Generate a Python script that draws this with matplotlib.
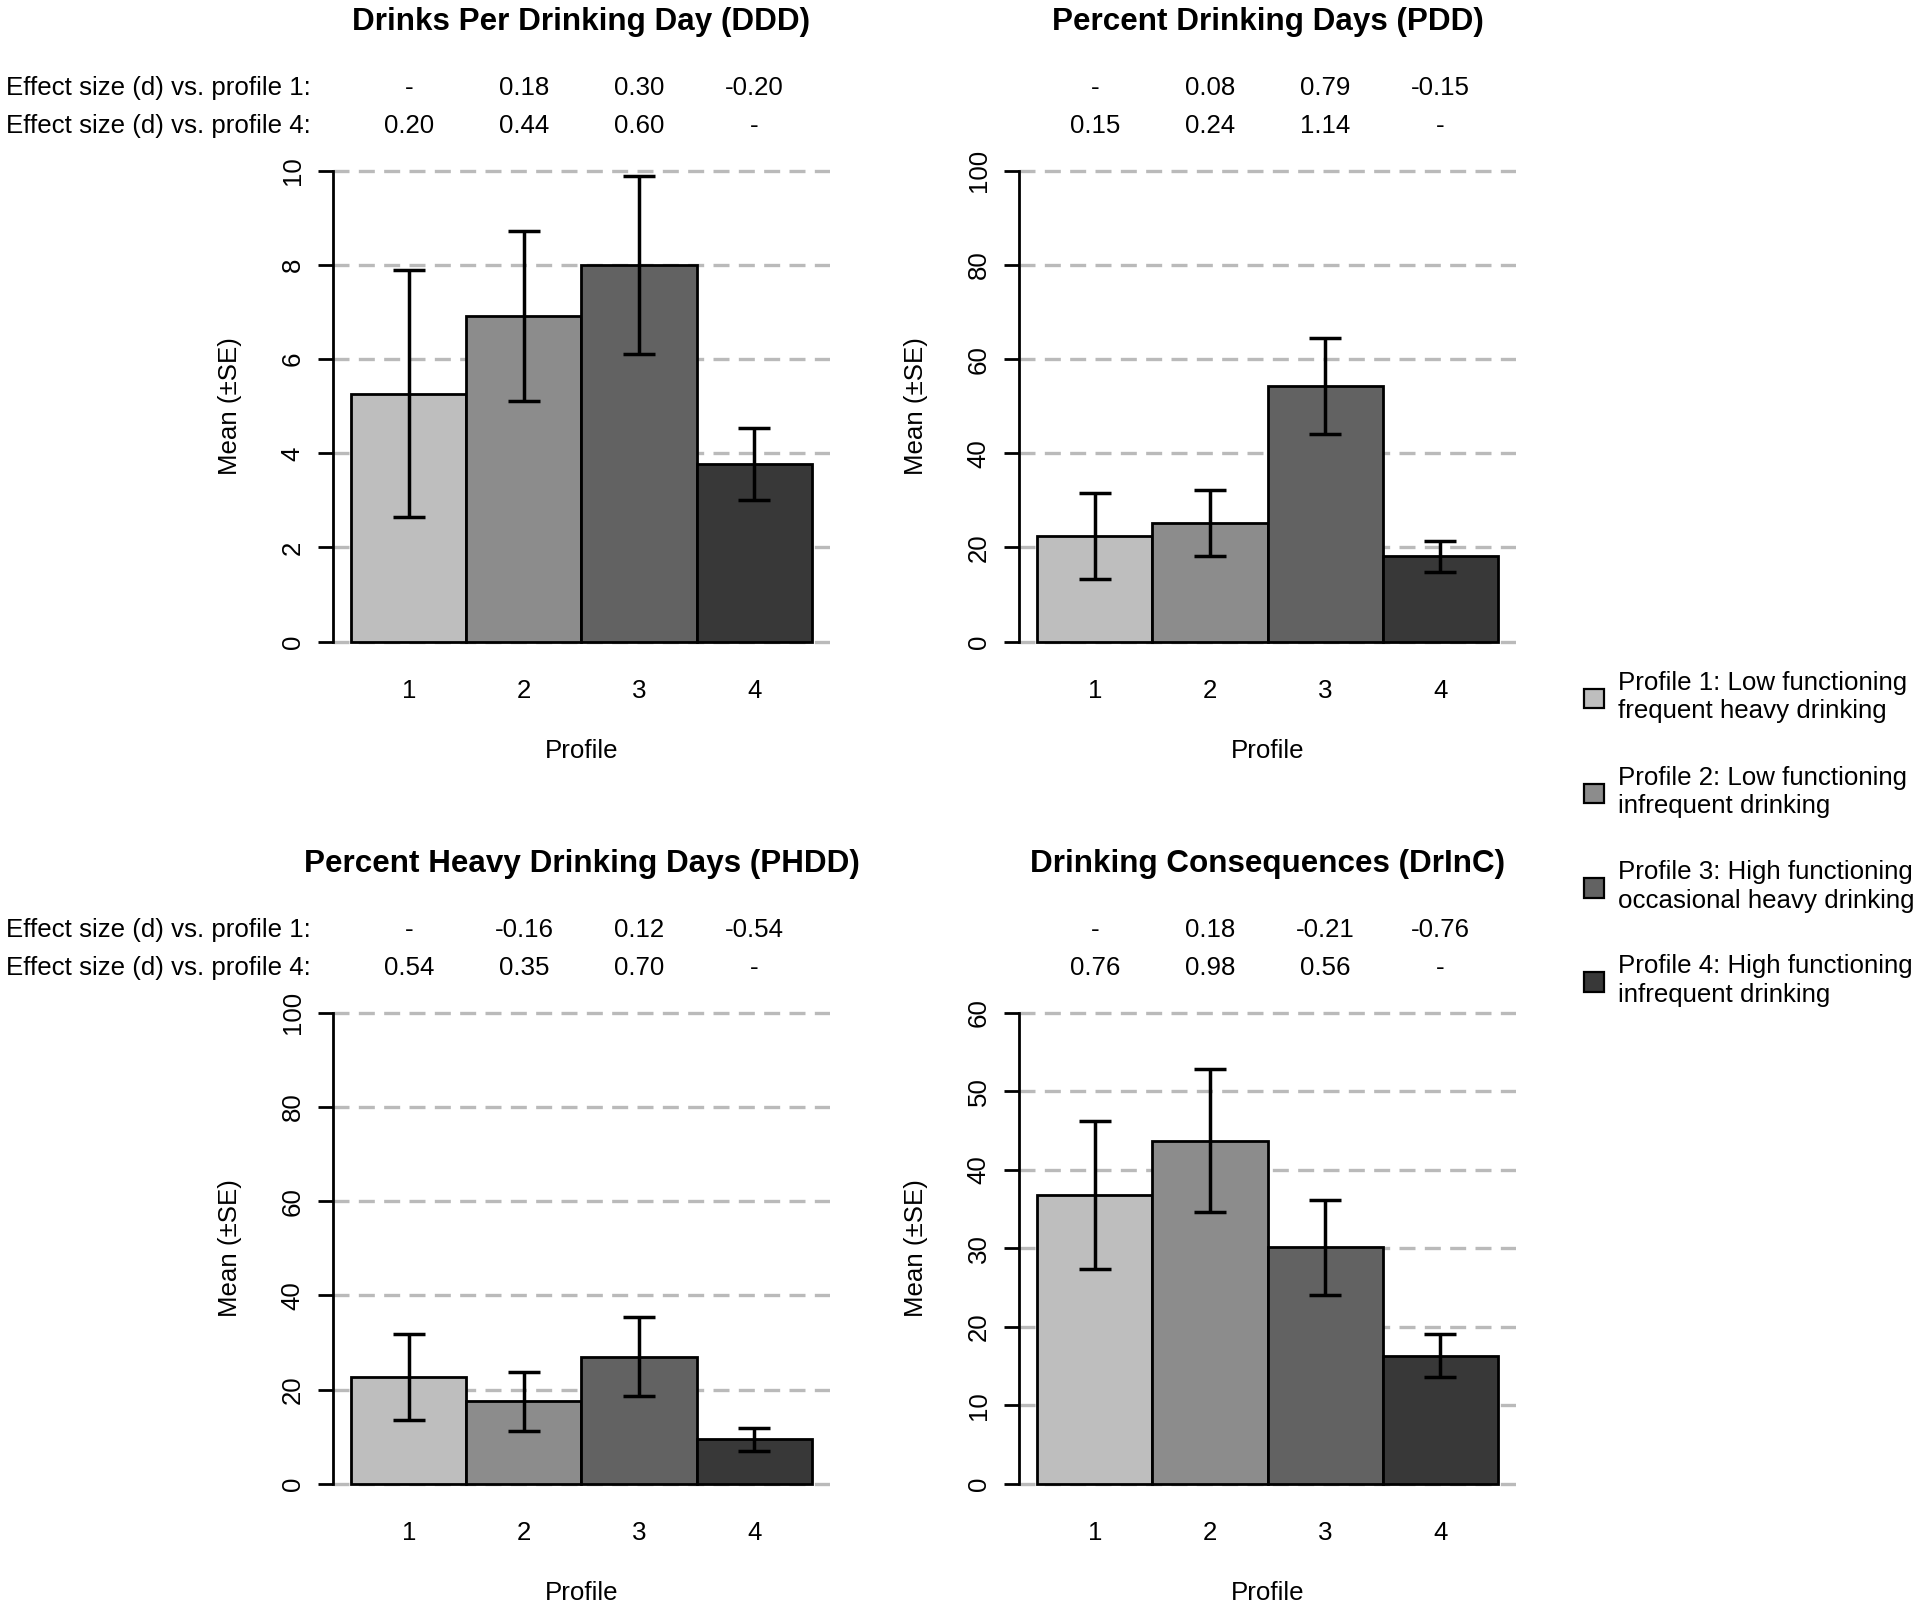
import numpy as np
import matplotlib
matplotlib.use("Agg")
import matplotlib.pyplot as plt
import matplotlib.transforms as mtransforms
from matplotlib.patches import Rectangle

plt.rcParams["font.family"] = ["Liberation Sans", "DejaVu Sans"]

# ---------------------------------------------------------------------------
# Data
# ---------------------------------------------------------------------------
profiles = ["1", "2", "3", "4"]
profile_labels = [
    "Profile 1: Low functioning\nfrequent heavy drinking",
    "Profile 2: Low functioning\ninfrequent drinking",
    "Profile 3: High functioning\noccasional heavy drinking",
    "Profile 4: High functioning\ninfrequent drinking",
]
bar_colors = ["#bebebe", "#8c8c8c", "#626262", "#383838"]

titles = [
    "Drinks Per Drinking Day (DDD)",
    "Percent Drinking Days (PDD)",
    "Percent Heavy Drinking Days (PHDD)",
    "Drinking Consequences (DrInC)",
]

ddd_mean = [5.27, 6.92, 8.00, 3.77]
ddd_se = [2.63, 1.81, 1.90, 0.77]
pdd_mean = [22.5, 25.2, 54.3, 18.1]
pdd_se = [9.15, 7.0, 10.1, 3.25]
phdd_mean = [22.6, 17.5, 27.0, 9.4]
phdd_se = [9.1, 6.3, 8.4, 2.45]
drinc_mean = [36.8, 43.7, 30.1, 16.3]
drinc_se = [9.4, 9.1, 6.0, 2.75]

# effect sizes (None -> "-")
ddd_d1 = [None, 0.18, 0.30, -0.20]
ddd_d4 = [0.20, 0.44, 0.60, None]
pdd_d1 = [None, 0.08, 0.79, -0.15]
pdd_d4 = [0.15, 0.24, 1.14, None]
phdd_d1 = [None, -0.16, 0.12, -0.54]
phdd_d4 = [0.54, 0.35, 0.70, None]
drinc_d1 = [None, 0.18, -0.21, -0.76]
drinc_d4 = [0.76, 0.98, 0.56, None]

y_max = [10, 100, 100, 60]
y_step = [2, 20, 20, 10]

# ---------------------------------------------------------------------------
# Layout (pixel based, figure is 1920 x 1609 at dpi 100)
# ---------------------------------------------------------------------------
W, H = 1920, 1609
FS = 18.6
FS_TITLE = 22.6

fig = plt.figure(figsize=(W / 100, H / 100), dpi=100)
fig.patch.set_facecolor("white")

ax_w, ax_h = 497, 508.5
lefts = [333, 1019]
tops = [152, 994]


def fx(px):
    return px / W


def fy(py):
    return 1 - py / H


def fmt_d(v):
    return "-" if v is None else f"{v:.2f}"


def draw_panel(ax, means, ses, ymax, step, title, d1, d4, row_labels, top_px, left_px):
    x = np.arange(len(means)) + 0.5
    ax.set_xlim(-0.16, 4.16)
    ax.set_ylim(-0.04 * ymax, 1.04 * ymax)
    yt = np.arange(0, ymax + step / 2, step)

    for y in yt:
        ax.axhline(y, color="#bababa", lw=2.4, ls=(0, (4.8, 2.8)), zorder=0)

    ax.bar(x, means, width=1.0, color=bar_colors, edgecolor="black",
           linewidth=2.0, zorder=2)
    ax.errorbar(x, means, yerr=ses, fmt="none", ecolor="black",
                elinewidth=2.5, capsize=11.5, capthick=2.5, zorder=3)

    for s in ("top", "right", "bottom"):
        ax.spines[s].set_visible(False)
    ax.spines["left"].set_bounds(0, ymax)
    ax.spines["left"].set_linewidth(2.0)
    ax.set_facecolor("none")

    ax.set_yticks(yt)
    ax.set_yticklabels([f"{int(v)}" for v in yt], rotation=90, va="center")
    ax.tick_params(axis="y", length=11, width=2.0, pad=9.5, labelsize=FS,
                   colors="black")
    ax.set_xticks(x)
    ax.set_xticklabels(profiles)
    ax.tick_params(axis="x", length=0, pad=13, labelsize=FS)

    ax.text(-0.207, 0.5, "Mean (\u00b1SE)", transform=ax.transAxes,
            rotation=90, ha="center", va="center", fontsize=FS)
    ax.text(0.5, -(91 / ax_h), "Profile", transform=ax.transAxes,
            ha="center", va="center", fontsize=FS)

    # title and effect-size rows
    fig.text(fx(left_px + ax_w / 2), fy(top_px - 130), title,
             ha="center", va="center", fontsize=FS_TITLE, fontweight="bold")
    trans = mtransforms.blended_transform_factory(ax.transData, fig.transFigure)
    for row, (vals, off) in enumerate([(d1, 63.8), (d4, 25.8)]):
        for xi, v in zip(x, vals):
            ax.text(xi, fy(top_px - off), fmt_d(v), transform=trans,
                    ha="center", va="center", fontsize=FS)
        if row_labels:
            fig.text(fx(6), fy(top_px - off),
                     f"Effect size (d) vs. profile {1 if row == 0 else 4}:",
                     ha="left", va="center", fontsize=FS)


panels = [
    (ddd_mean, ddd_se, ddd_d1, ddd_d4),
    (pdd_mean, pdd_se, pdd_d1, pdd_d4),
    (phdd_mean, phdd_se, phdd_d1, phdd_d4),
    (drinc_mean, drinc_se, drinc_d1, drinc_d4),
]

for i, (means, ses, d1, d4) in enumerate(panels):
    r, c = divmod(i, 2)
    left_px, top_px = lefts[c], tops[r]
    ax = fig.add_axes([fx(left_px), fy(top_px + ax_h), fx(ax_w), ax_h / H])
    draw_panel(ax, means, ses, y_max[i], y_step[i], titles[i], d1, d4,
               c == 0, top_px, left_px)

# ---------------------------------------------------------------------------
# Legend (manual, right side)
# ---------------------------------------------------------------------------
leg_centers = [697.0, 791.9, 886.2, 980.5]
sq = 19.6
for clr, lab, yc in zip(bar_colors, profile_labels, leg_centers):
    fig.add_artist(Rectangle((fx(1594 - sq / 2), fy(yc + 1.5 + sq / 2)),
                             fx(sq), sq / H, transform=fig.transFigure,
                             facecolor=clr, edgecolor="black", linewidth=1.6))
    fig.text(fx(1617.6), fy(yc), lab, ha="left", va="center",
             fontsize=FS, linespacing=1.25)

fig.savefig("out.png", dpi=100, facecolor="white")
